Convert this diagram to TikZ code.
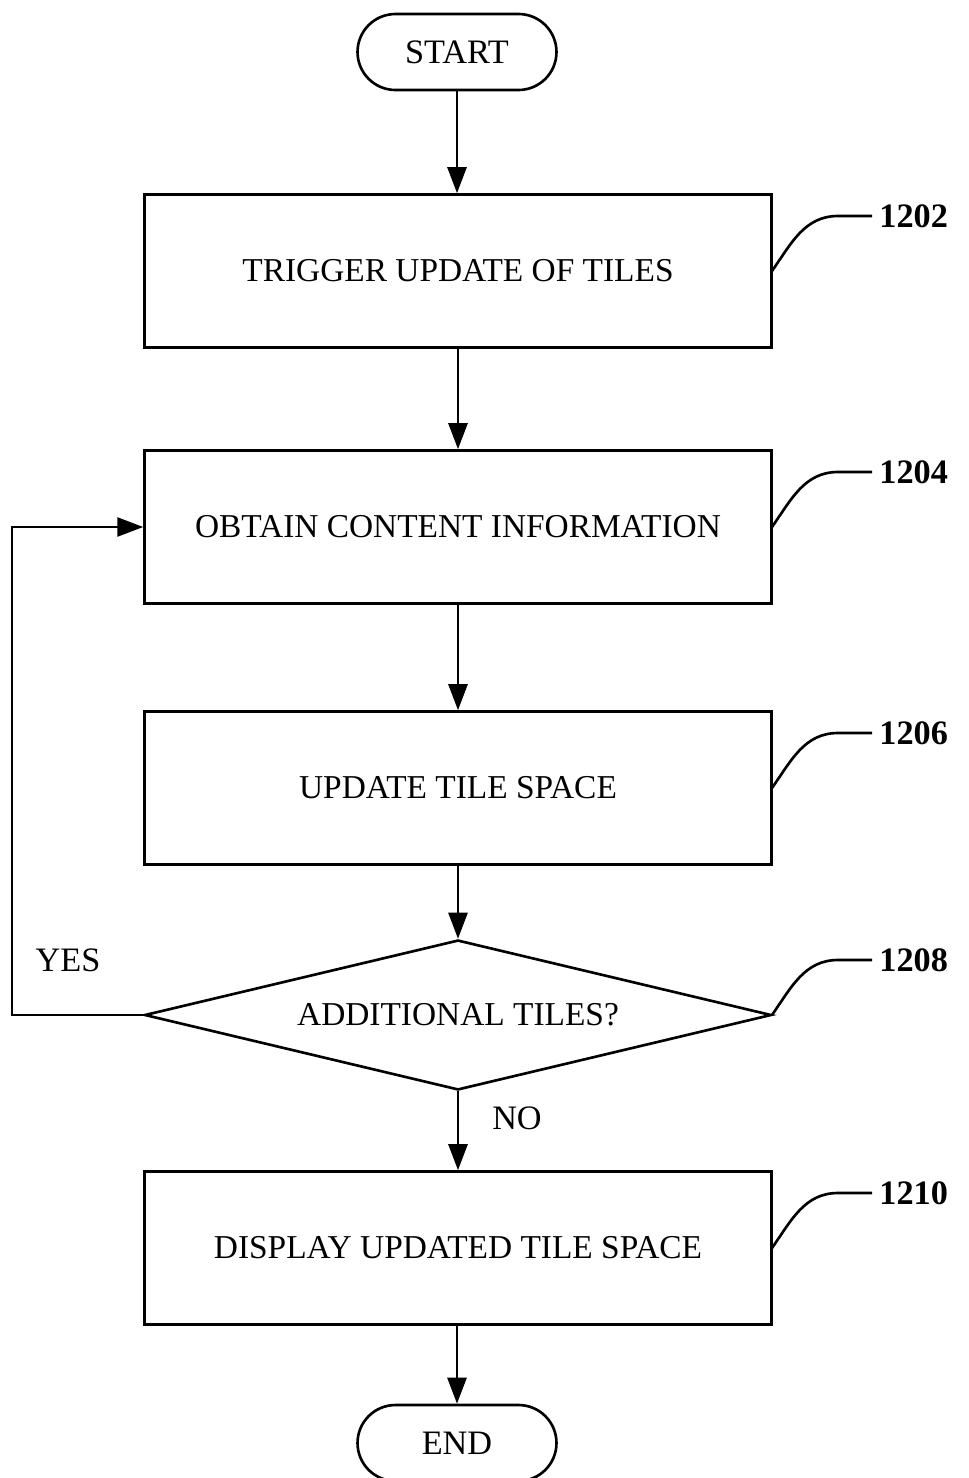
\documentclass[tikz,border=0pt]{standalone}
\usepackage{fontspec}
\setmainfont{Liberation Serif}
\usetikzlibrary{arrows.meta,shapes.geometric}
\tikzset{
	stepbox/.style={draw,line width=1.5pt,minimum width=12.54cm,minimum height=3.06cm,inner sep=0pt,font=\fontsize{19}{21}\selectfont},
	termbox/.style={draw,line width=1.5pt,rounded corners=0.76cm,minimum width=3.98cm,minimum height=1.52cm,inner sep=0pt,font=\fontsize{19.5}{21}\selectfont},
	askbox/.style={draw,diamond,aspect=4.18,line width=1.5pt,minimum width=12.54cm,minimum height=3cm,inner sep=0pt,font=\fontsize{19}{21}\selectfont},
	reflabel/.style={anchor=west,inner sep=4pt,font=\bfseries\fontsize{19.5}{21}\selectfont},
	flowarrow/.style={line width=1.5pt,-{Triangle[length=0.52cm,width=0.38cm]}},
	refline/.style={line width=1.5pt}
}
\begin{document}
\begin{tikzpicture}[x=0.02cm,y=-0.02cm]
				\useasboundingbox (0,0) rectangle (968,1478);
				\node[termbox] (start) at (457,52) {START};
				\node[stepbox] (b1202) at (458,271) {TRIGGER UPDATE OF TILES};
				\node[stepbox] (b1204) at (458,527) {OBTAIN CONTENT INFORMATION};
				\node[stepbox] (b1206) at (458,788) {UPDATE TILE SPACE};
				\node[askbox] (d1208) at (458,1015) {ADDITIONAL TILES?};
				\node[stepbox] (b1210) at (458,1248) {DISPLAY UPDATED TILE SPACE};
				\node[termbox] (end) at (457,1443) {END};
				\node[font=\fontsize{19.5}{21}\selectfont] (yes) at (68,960) {YES};
				\node[font=\fontsize{19.5}{21}\selectfont] (no) at (517,1118) {NO};
				\draw[flowarrow] (start) -- (start|-b1202.north);
				\draw[flowarrow] (b1202) -- (b1204);
				\draw[flowarrow] (b1204) -- (b1206);
				\draw[flowarrow] (b1206) -- (d1208);
				\draw[flowarrow] (d1208) -- (b1210);
				\draw[flowarrow] (b1210.south-|end) -- (end);
				\coordinate (loop) at (12,1015);
				\draw[flowarrow] (d1208.west) -- (loop) |- (b1204.west);
				\foreach \n/\y in {1202/271,1204/527,1206/788,1208/1015,1210/1248}{
					\node[reflabel] (r\n) at (872,\y-55) {\n};
					\coordinate (k\n) at (838,\y-55);
					\draw[refline] (772,\y) to[out=55,in=180] (k\n) -- (r\n.west);
				}
			\end{tikzpicture}
\end{document}
